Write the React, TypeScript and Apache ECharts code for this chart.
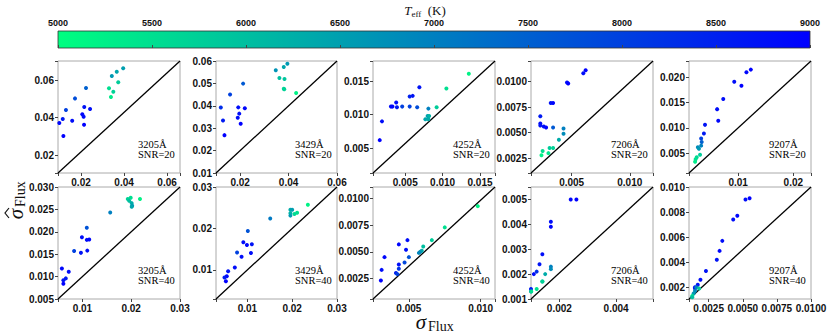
import React, { useEffect, useRef } from "react";
import * as echarts from "echarts";

// [sigma_Flux, sigma_hat_Flux, Teff]
const d3205_20 = [
  [0.0396, 0.0664, 6500], [0.0366, 0.0646, 6400], [0.0343, 0.0623, 6600], [0.0373, 0.0589, 5800],
  [0.033, 0.0557, 5500], [0.035, 0.0539, 5700], [0.0339, 0.0511, 5300], [0.0223, 0.0559, 7500],
  [0.0172, 0.0503, 7800], [0.013, 0.0441, 8000], [0.0215, 0.0457, 8700], [0.0242, 0.0446, 8800],
  [0.0206, 0.0418, 8900], [0.0212, 0.0405, 8800], [0.0115, 0.0393, 8600], [0.0099, 0.0371, 8900],
  [0.0159, 0.0384, 8800], [0.0214, 0.0362, 9000], [0.0118, 0.0302, 9000],
];
const d3429_20 = [
  [0.0395, 0.0588, 6600], [0.038, 0.0573, 6400], [0.0347, 0.0559, 6700], [0.0362, 0.0524, 6000],
  [0.0383, 0.052, 5900], [0.038, 0.0476, 5600], [0.0382, 0.0474, 5700], [0.0431, 0.0457, 5200],
  [0.0212, 0.0499, 7600], [0.0158, 0.045, 8000], [0.012, 0.0392, 8300], [0.0192, 0.0393, 8800],
  [0.0219, 0.0389, 8900], [0.0196, 0.0365, 8800], [0.019, 0.0347, 8800], [0.0129, 0.0334, 8600],
  [0.0202, 0.032, 9000], [0.0135, 0.0269, 9000],
];
const d4252_20 = [
  [0.0135, 0.0161, 5200], [0.0105, 0.0139, 5500], [0.0069, 0.0141, 8700], [0.006, 0.0128, 8700],
  [0.0056, 0.0127, 8500], [0.0038, 0.0118, 8800], [0.0031, 0.0112, 8800], [0.0033, 0.0112, 8900],
  [0.0039, 0.0111, 8600], [0.0046, 0.0112, 8000], [0.0056, 0.0112, 8000], [0.0066, 0.0111, 7800],
  [0.0081, 0.0109, 7000], [0.0092, 0.0111, 5800], [0.008, 0.0098, 6500], [0.0082, 0.0098, 6200],
  [0.0077, 0.0093, 6400], [0.0081, 0.0093, 6300], [0.0019, 0.009, 8800], [0.0016, 0.0062, 9000],
];
const d7206_20 = [
  [0.0062, 0.0111, 9000], [0.006, 0.0108, 8800], [0.0046, 0.0099, 8800], [0.0047, 0.0098, 9000],
  [0.0032, 0.0079, 8700], [0.0034, 0.0079, 8900], [0.0023, 0.0066, 8600], [0.0023, 0.0059, 8800],
  [0.0023, 0.0057, 8700], [0.0026, 0.0056, 8800], [0.0028, 0.0055, 8900], [0.0034, 0.0055, 7600],
  [0.0043, 0.0054, 7000], [0.0043, 0.0049, 6800], [0.0039, 0.0043, 6300], [0.0031, 0.0035, 5800],
  [0.0034, 0.0035, 5700], [0.0025, 0.0032, 5500], [0.003, 0.003, 5400], [0.0024, 0.0028, 5200],
];
const d9207_20 = [
  [0.0123, 0.0215, 9000], [0.0115, 0.021, 8900], [0.0093, 0.0191, 8800], [0.0106, 0.0183, 9000],
  [0.0073, 0.0157, 8800], [0.0062, 0.0137, 8800], [0.0064, 0.0114, 8900], [0.004, 0.0106, 8700],
  [0.0038, 0.0089, 8600], [0.0033, 0.0079, 8000], [0.0034, 0.0072, 7500], [0.0033, 0.0065, 7000],
  [0.0027, 0.0062, 6800], [0.0029, 0.0059, 6600], [0.0031, 0.0047, 5800], [0.0025, 0.0042, 5600],
  [0.0023, 0.0038, 5500], [0.0022, 0.0033, 5300],
];
const d3205_40 = [
  [0.0218, 0.0273, 5200], [0.0199, 0.0276, 5500], [0.0193, 0.0273, 5700], [0.0196, 0.0269, 6000],
  [0.0201, 0.0264, 6300], [0.0202, 0.0258, 6600], [0.0201, 0.0256, 6400], [0.0157, 0.0243, 7000],
  [0.0109, 0.0209, 7700], [0.0099, 0.0188, 8800], [0.0109, 0.0182, 8800], [0.0114, 0.0183, 8900],
  [0.0083, 0.0157, 8000], [0.0097, 0.0153, 8700], [0.011, 0.0158, 8800], [0.0058, 0.0118, 8900],
  [0.0072, 0.0111, 8800], [0.0066, 0.0096, 8600], [0.0061, 0.0092, 8700], [0.0061, 0.0084, 9000],
];
const d3429_40 = [
  [0.0235, 0.0257, 5200], [0.0211, 0.0238, 5500], [0.0205, 0.0235, 5600], [0.0196, 0.0245, 6300],
  [0.02, 0.0245, 6500], [0.0196, 0.0237, 6200], [0.0196, 0.0231, 6600], [0.0151, 0.0224, 7100],
  [0.0101, 0.0194, 7700], [0.0091, 0.0167, 8800], [0.0099, 0.016, 8900], [0.011, 0.0162, 8700],
  [0.0077, 0.0142, 8000], [0.0108, 0.0141, 8800], [0.0087, 0.0132, 8800], [0.0072, 0.0106, 8800],
  [0.0057, 0.0097, 8700], [0.0054, 0.0085, 8900], [0.0049, 0.0082, 8600], [0.0052, 0.0073, 9000],
];
const d4252_40 = [
  [0.0098, 0.0093, 5200], [0.0075, 0.0073, 5500], [0.0066, 0.0061, 5800], [0.006, 0.0055, 6000],
  [0.0059, 0.0051, 6300], [0.0058, 0.005, 6600], [0.0057, 0.0049, 6900], [0.0049, 0.0061, 8800],
  [0.0043, 0.0057, 8900], [0.0048, 0.0052, 8800], [0.005, 0.0045, 7700], [0.0047, 0.004, 7900],
  [0.0043, 0.0038, 8800], [0.0043, 0.0034, 8200], [0.0041, 0.003, 8500], [0.0042, 0.0029, 8000],
  [0.0033, 0.0045, 8900], [0.0031, 0.0033, 8800], [0.00305, 0.0023, 9000],
];
const d7206_40 = [
  [0.0024, 0.005, 8900], [0.0026, 0.005, 9000], [0.0017, 0.0041, 8800], [0.0017, 0.0039, 8900],
  [0.0014, 0.0028, 8800], [0.0013, 0.0024, 8700], [0.0012, 0.0021, 8300], [0.0011, 0.002, 8800],
  [0.0017, 0.0023, 7000], [0.0017, 0.0022, 6800], [0.0015, 0.002, 6300], [0.0014, 0.0017, 6000],
  [0.0014, 0.0017, 5700], [0.0012, 0.0014, 5500], [0.001, 0.0014, 8600], [0.001, 0.0013, 6800],
  [0.00101, 0.0013, 5500],
];
const d9207_40 = [
  [0.0055, 0.0091, 9000], [0.0052, 0.009, 8800], [0.0046, 0.0077, 8900], [0.0043, 0.0074, 8800],
  [0.0035, 0.0057, 8800], [0.0033, 0.0049, 8900], [0.0031, 0.0042, 8700], [0.0023, 0.0033, 8700],
  [0.0019, 0.0026, 8800], [0.0017, 0.0022, 8700], [0.0015, 0.002, 8900], [0.0015, 0.0019, 8500],
  [0.0016, 0.002, 7000], [0.0015, 0.0017, 6800], [0.0018, 0.0019, 5800], [0.0014, 0.0015, 6600],
  [0.0013, 0.0013, 5500], [0.0013, 0.0012, 6000],
];

const wavelengths = ["3205Å", "3429Å", "4252Å", "7206Å", "9207Å"];
const snrs = [20, 40];
const panelData = [d3205_20, d3429_20, d4252_20, d7206_20, d9207_20, d3205_40, d3429_40, d4252_40, d7206_40, d9207_40];

// axis ticks: [min, max, step, decimals]
const xTicks = [
  [0.0093, 0.066, 0.02, 2], [0.01, 0.06, 0.02, 2], [0.0007, 0.017, 0.005, 3], [0.0015, 0.012, 0.005, 3], [0.0011, 0.0232, 0.01, 2],
  [0.005, 0.03, 0.01, 2], [0.003, 0.03, 0.01, 2], [0.0025, 0.011, 0.005, 3], [0.001, 0.0053, 0.002, 3], [0.00106, 0.01, 0.0025, 4],
];
const yTicks = [
  [0.0104, 0.0703, 0.02, 2], [0.01, 0.06, 0.01, 2], [0.0013, 0.018, 0.005, 3], [0.00106, 0.012, 0.0025, 4], [0.0011, 0.0232, 0.005, 3],
  [0.005, 0.03, 0.005, 3], [0.003, 0.03, 0.01, 2], [0.00056, 0.0111, 0.0025, 4], [0.001, 0.0055, 0.001, 3], [0.00106, 0.01, 0.002, 3],
];
const teffTicks = [5000, 9000, 500];

const LEFTS = [58, 216, 373, 531, 689];
const WIDTHS = [122, 121, 122, 122, 122];
const TOPS = [61, 187];
const H = 112;

const tickFont = "'Liberation Sans Narrow', 'Liberation Sans', Arial, sans-serif";
const serif = "'Liberation Serif', 'DejaVu Serif', serif";

function fmt(step: number, dec: number) {
  return (v: number) => {
    const r = v / step;
    return Math.abs(r - Math.round(r)) < 1e-6 ? v.toFixed(dec) : "";
  };
}

function axis(t: number[], gi: number) {
  return {
    type: "value",
    gridIndex: gi,
    min: t[0],
    max: t[1],
    minInterval: t[2],
    maxInterval: t[2],
    axisLine: { show: false },
    axisTick: { show: true, length: 3, lineStyle: { color: "#444", width: 1 } },
    splitLine: { show: false },
    axisLabel: {
      formatter: fmt(t[2], t[3]),
      fontSize: 10,
      fontWeight: "bold",
      fontFamily: tickFont,
      color: "#111",
      margin: 4,
      hideOverlap: false,
    },
  };
}

function sigmaLabel(x: number, y: number, rotation: number, hat: boolean) {
  const children: any[] = [
    {
      type: "text",
      x: 0,
      y: 0,
      style: { text: "σ", fontSize: 21, fontStyle: "italic", fontFamily: serif, fill: "#111", textAlign: "center", textVerticalAlign: "middle", lineHeight: 14 },
    },
    {
      type: "text",
      x: 7,
      y: 4,
      style: { text: "Flux", fontSize: 14, fontFamily: serif, fill: "#111", textAlign: "left", textVerticalAlign: "middle", lineHeight: 12 },
    },
  ];
  if (hat) {
    children.push({
      type: "polyline",
      shape: { points: [[-4, -7], [1, -11], [6, -7]] },
      style: { stroke: "#111", lineWidth: 1.2, fill: null },
    });
  }
  return { type: "group", x, y, rotation, children };
}

export default function App() {
  const ref = useRef<HTMLDivElement>(null);
  useEffect(() => {
    document.body.style.margin = "0";
    const chart = echarts.init(ref.current!, null, { renderer: "svg" });
    const grids: any[] = [];
    const xAxes: any[] = [];
    const yAxes: any[] = [];
    const series: any[] = [];
    const graphics: any[] = [];
    const scatterIdx: number[] = [];
    for (let i = 0; i < 10; i++) {
      const row = Math.floor(i / 5);
      const col = i % 5;
      const left = LEFTS[col];
      const top = TOPS[row];
      const w = WIDTHS[col];
      grids.push({ left, top, width: w, height: H, show: true, borderColor: "#aaa", borderWidth: 1, backgroundColor: "transparent" });
      xAxes.push(axis(xTicks[i], i));
      yAxes.push(axis(yTicks[i], i));
      series.push({
        type: "line",
        xAxisIndex: i,
        yAxisIndex: i,
        data: [[xTicks[i][0], yTicks[i][0]], [xTicks[i][1], yTicks[i][1]]],
        showSymbol: false,
        symbol: "none",
        lineStyle: { color: "#000", width: 1.3 },
        silent: true,
        z: 1,
      });
      scatterIdx.push(series.length);
      series.push({
        type: "scatter",
        xAxisIndex: i,
        yAxisIndex: i,
        data: panelData[i],
        symbolSize: 4,
        itemStyle: { opacity: 1 },
        z: 3,
      });
      graphics.push({
        type: "text",
        x: left + w - 42,
        y: top + H - 34,
        style: {
          text: wavelengths[col] + "\nSNR=" + snrs[row],
          fontSize: 10.5,
          fontFamily: serif,
          fill: "#000",
          lineHeight: 10,
        },
        z: 10,
      });
    }
    // colorbar axes
    grids.push({ left: 58, top: 31, width: 752, height: 17, show: false });
    xAxes.push({
      type: "value",
      gridIndex: 10,
      min: teffTicks[0],
      max: teffTicks[1],
      minInterval: teffTicks[2],
      maxInterval: teffTicks[2],
      position: "top",
      axisLine: { show: false },
      axisTick: { show: true, length: 3, lineStyle: { color: "#444" } },
      splitLine: { show: false },
      axisLabel: {
        formatter: (v: number) => String(Math.round(v)),
        fontSize: 9,
        fontWeight: "bold",
        fontFamily: tickFont,
        color: "#111",
        margin: 4,
      },
    });
    yAxes.push({ type: "value", gridIndex: 10, show: false, min: 0, max: 1 });

    graphics.push({
      type: "rect",
      shape: { x: 58, y: 31, width: 752, height: 17 },
      style: {
        fill: new echarts.graphic.LinearGradient(0, 0, 1, 0, [
          { offset: 0, color: "#00ff80" },
          { offset: 1, color: "#0000ff" },
        ]),
        stroke: "#333",
        lineWidth: 0.8,
      },
      z: 0,
    });
    graphics.push({
      type: "text",
      x: 425,
      y: 11,
      style: {
        text: "{i|T}{s|eff}{n|  (K)}",
        textAlign: "center",
        textVerticalAlign: "middle",
        rich: {
          i: { fontSize: 13, fontStyle: "italic", fontFamily: serif, fill: "#111", verticalAlign: "bottom", padding: [0, 0, 2, 0] },
          s: { fontSize: 9, fontFamily: serif, fill: "#111", verticalAlign: "bottom" },
          n: { fontSize: 13, fontFamily: serif, fill: "#111", verticalAlign: "bottom", padding: [0, 0, 2, 0] },
        },
      },
    });
    graphics.push(sigmaLabel(16, 214, Math.PI / 2, true));
    graphics.push(sigmaLabel(421, 322, 0, false));

    chart.setOption({
      animation: false,
      grid: grids,
      xAxis: xAxes,
      yAxis: yAxes,
      visualMap: {
        type: "continuous",
        show: false,
        min: teffTicks[0],
        max: teffTicks[1],
        dimension: 2,
        seriesIndex: scatterIdx,
        inRange: { color: ["#00ff80", "#0000ff"] },
      },
      series,
      graphic: graphics,
    });
    return () => chart.dispose();
  }, []);
  return <div ref={ref} style={{ width: 831, height: 336 }} />;
}
